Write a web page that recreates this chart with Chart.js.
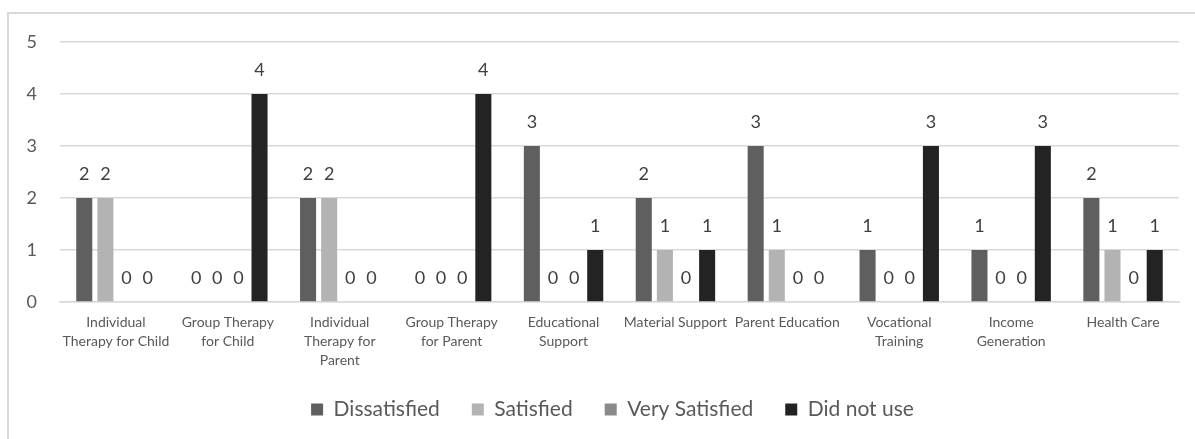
<!DOCTYPE html>
<html>
<head>
<meta charset="utf-8">
<script src="https://cdn.jsdelivr.net/npm/chart.js@4"></script>
<style>
  html, body { margin: 0; padding: 0; background: #fff; overflow: hidden; }
  #wrap { position: relative; width: 1195px; height: 439px; }
  #frame { position: absolute; left: 7px; top: 12px; width: 1300px; height: 600px;
           border: 2px solid #d9d9d9; box-sizing: border-box; }
  #myChart { position: absolute; left: 0; top: 0; }
</style>
</head>
<body>
<div id="wrap">
  <div id="frame"></div>
  <canvas id="myChart" width="1195" height="439"></canvas>
</div>
<script>
const services = [
    ['Individual', 'Therapy for Child'],
    ['Group Therapy', 'for Child'],
    ['Individual', 'Therapy for', 'Parent'],
    ['Group Therapy', 'for Parent'],
    ['Educational', 'Support'],
    'Material Support',
    'Parent Education',
    ['Vocational', 'Training'],
    ['Income', 'Generation'],
    'Health Care'
];
const dissatisfied  = [2, 0, 2, 0, 3, 2, 3, 1, 1, 2];
const satisfied     = [2, 0, 2, 0, 0, 1, 1, 0, 0, 1];
const verySatisfied = [0, 0, 0, 0, 0, 0, 0, 0, 0, 0];
const didNotUse     = [0, 4, 0, 4, 1, 1, 0, 3, 3, 1];
const yTicks = [0, 1, 2, 3, 4, 5];

const font = 'Lato, Carlito, Calibri, sans-serif';
const ctx = document.getElementById('myChart');

// writes each bar's value just above its top
const valueLabels = {
    id: 'valueLabels',
    afterDatasetsDraw: (chart) => {
        const { ctx } = chart;
        ctx.save();
        ctx.font = `18px ${font}`;
        ctx.fillStyle = '#404040';
        ctx.textAlign = 'center';
        ctx.textBaseline = 'middle';
        chart.data.datasets.forEach((ds, i) => {
            const meta = chart.getDatasetMeta(i);
            meta.data.forEach((bar, j) => {
                ctx.fillText(String(ds.data[j]), bar.x, bar.y - 24);
            });
        });
        ctx.restore();
    }
};

// nudge the legend so it centres under the frame rather than the canvas
const legendShift = {
    id: 'legendShift',
    afterLayout: (chart) => {
        if (chart.legend) chart.legend.left = 46;
    }
};

function series(label, values, color) {
    return {
        label: label,
        data: values,
        backgroundColor: color,
        borderWidth: 0,
        categoryPercentage: 0.755,
        barPercentage: 0.76
    };
}

new Chart(ctx, {
    type: 'bar',
    data: {
        labels: services,
        datasets: [
            series('Dissatisfied', dissatisfied, '#5f5f5f'),
            series('Satisfied', satisfied, '#b3b3b3'),
            series('Very Satisfied', verySatisfied, '#8a8a8a'),
            series('Did not use', didNotUse, '#232323')
        ]
    },
    options: {
        responsive: false,
        animation: false,
        layout: { padding: { left: 0, right: 16, top: 42, bottom: 9 } },
        scales: {
            y: {
                min: yTicks[0],
                max: yTicks[yTicks.length - 1],
                afterBuildTicks: (scale) => { scale.ticks = yTicks.map(v => ({ value: v })); },
                afterFit: (scale) => { scale.width = 60; },
                border: { display: false },
                grid: { color: '#d9d9d9', lineWidth: 1.5, drawTicks: false },
                ticks: {
                    padding: 23,
                    color: '#595959',
                    font: { family: font, size: 18 }
                }
            },
            x: {
                afterFit: (scale) => { scale.height = 65; },
                border: { color: '#d9d9d9', width: 1.5 },
                grid: { display: false, drawTicks: false },
                ticks: {
                    padding: 11,
                    maxRotation: 0,
                    autoSkip: false,
                    color: '#595959',
                    font: { family: font, size: 14, lineHeight: 1.36 }
                }
            }
        },
        plugins: {
            tooltip: { enabled: false },
            legend: {
                position: 'bottom',
                labels: {
                    boxWidth: 12,
                    boxHeight: 12,
                    padding: 32,
                    color: '#595959',
                    font: { family: font, size: 21 }
                }
            }
        }
    },
    plugins: [valueLabels, legendShift]
});
</script>
</body>
</html>
